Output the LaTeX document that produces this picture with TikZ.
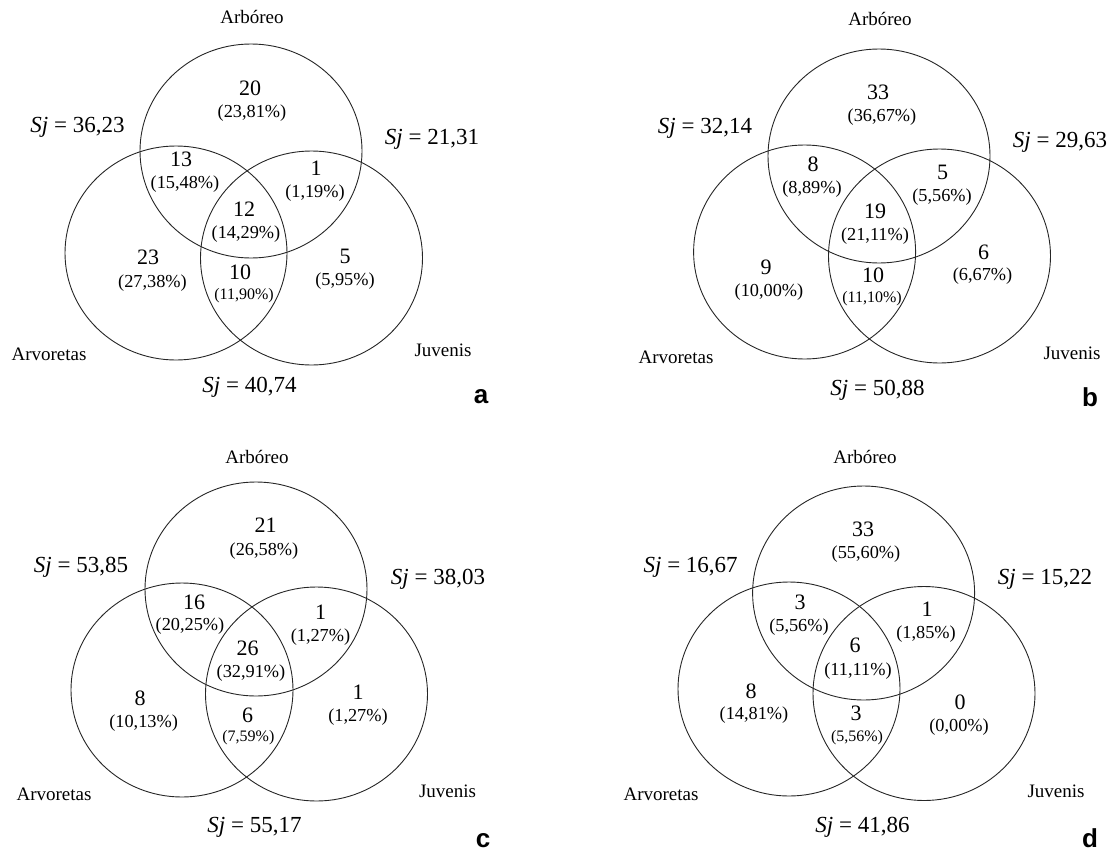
\documentclass[tikz,border=0pt]{standalone}
\usepackage{fontspec}
\setmainfont{Liberation Serif}
\newfontfamily\tagfont{Liberation Sans}
\begin{document}
\begin{tikzpicture}[x=1pt,y=-1pt,
  ring/.style={line width=0.9pt, draw=black!85},
  num/.style={inner sep=0pt, font=\fontsize{22}{22}\selectfont},
  pct/.style={inner sep=0pt, font=\fontsize{18.3}{18.3}\selectfont},
  spct/.style={inner sep=0pt, font=\fontsize{16}{16}\selectfont},
  lbl/.style={inner sep=0pt, font=\fontsize{19}{19}\selectfont},
  sj/.style={inner sep=0pt, font=\fontsize{23}{23}\selectfont},
  tag/.style={inner sep=0pt, font=\tagfont\bfseries\fontsize{26}{26}\selectfont}]
\useasboundingbox (0,0) rectangle (1111,854);
\newcommand{\SJ}[1]{\textit{Sj} = #1}
% ---------------- panel a ----------------
\coordinate (aT) at (251,151);
\coordinate (aL) at (176,253);
\coordinate (aR) at (311.5,258);
\draw[ring] (aT) ellipse [x radius=111pt, y radius=107pt];
\draw[ring] (aL) ellipse [x radius=111pt, y radius=107pt];
\draw[ring] (aR) ellipse [x radius=111pt, y radius=107pt];
\node[lbl] (aArb) at (252,17) {Arbóreo};
\node[sj] (aS1) at (77.5,127) {\SJ{36,23}};
\node[sj] (aS2) at (432,139) {\SJ{21,31}};
\node[num] (an1) at (250,88) {20};
\node[pct] (ap1) at (252,113) {(23,81\%)};
\node[num] (an2) at (181,159) {13};
\node[pct] (ap2) at (185,184) {(15,48\%)};
\node[num] (an3) at (316,168) {1};
\node[pct] (ap3) at (315,193) {(1,19\%)};
\node[num] (an4) at (244,209) {12};
\node[pct] (ap4) at (246,234) {(14,29\%)};
\node[num] (an5) at (148,257) {23};
\node[pct] (ap5) at (152.5,283) {(27,38\%)};
\node[num] (an6) at (240,272) {10};
\node[spct] (ap6) at (244,296) {(11,90\%)};
\node[num] (an7) at (345,256) {5};
\node[pct] (ap7) at (345,281) {(5,95\%)};
\node[lbl] (aArv) at (49,354) {Arvoretas};
\node[lbl] (aJuv) at (443,350) {Juvenis};
\node[sj] (aS3) at (249.5,387) {\SJ{40,74}};
\node[tag] (aTag) at (481,397) {a};
% ---------------- panel b ----------------
\coordinate (bT) at (879,156);
\coordinate (bL) at (804.6,252);
\coordinate (bR) at (939.5,256);
\draw[ring] (bT) ellipse [x radius=111pt, y radius=107pt];
\draw[ring] (bL) ellipse [x radius=111pt, y radius=107pt];
\draw[ring] (bR) ellipse [x radius=111pt, y radius=107pt];
\node[lbl] (bArb) at (880,19) {Arbóreo};
\node[sj] (bS1) at (705,128) {\SJ{32,14}};
\node[sj] (bS2) at (1060,142) {\SJ{29,63}};
\node[num] (bn1) at (878,92) {33};
\node[pct] (bp1) at (882,117) {(36,67\%)};
\node[num] (bn2) at (813,164) {8};
\node[pct] (bp2) at (812,189) {(8,89\%)};
\node[num] (bn3) at (942.5,172) {5};
\node[pct] (bp3) at (942,197) {(5,56\%)};
\node[num] (bn4) at (875,211) {19};
\node[pct] (bp4) at (875,236) {(21,11\%)};
\node[num] (bn5) at (766,267) {9};
\node[pct] (bp5) at (769,292) {(10,00\%)};
\node[num] (bn6) at (873,275) {10};
\node[spct] (bp6) at (872,299) {(11,10\%)};
\node[num] (bn7) at (983.6,252) {6};
\node[pct] (bp7) at (982.5,276) {(6,67\%)};
\node[lbl] (bArv) at (676,357) {Arvoretas};
\node[lbl] (bJuv) at (1072,353) {Juvenis};
\node[sj] (bS3) at (877.5,390) {\SJ{50,88}};
\node[tag] (bTag) at (1090,397) {b};
% ---------------- panel c ----------------
\coordinate (cT) at (256,589);
\coordinate (cL) at (182,690);
\coordinate (cR) at (316.5,694);
\draw[ring] (cT) ellipse [x radius=111pt, y radius=107pt];
\draw[ring] (cL) ellipse [x radius=111pt, y radius=107pt];
\draw[ring] (cR) ellipse [x radius=111pt, y radius=107pt];
\node[lbl] (cArb) at (257,457) {Arbóreo};
\node[sj] (cS1) at (81,567) {\SJ{53,85}};
\node[sj] (cS2) at (438,579) {\SJ{38,03}};
\node[num] (cn1) at (265.6,525) {21};
\node[pct] (cp1) at (264,551) {(26,58\%)};
\node[num] (cn2) at (194,602) {16};
\node[pct] (cp2) at (190,626) {(20,25\%)};
\node[num] (cn3) at (320.5,612) {1};
\node[pct] (cp3) at (320.5,637) {(1,27\%)};
\node[num] (cn4) at (247.7,648) {26};
\node[pct] (cp4) at (251,673) {(32,91\%)};
\node[num] (cn5) at (140,698) {8};
\node[pct] (cp5) at (143.6,723) {(10,13\%)};
\node[num] (cn6) at (247.7,715) {6};
\node[spct] (cp6) at (248.4,738) {(7,59\%)};
\node[num] (cn7) at (358,692) {1};
\node[pct] (cp7) at (358,717) {(1,27\%)};
\node[lbl] (cArv) at (54,794) {Arvoretas};
\node[lbl] (cJuv) at (447.6,791) {Juvenis};
\node[sj] (cS3) at (254.5,827) {\SJ{55,17}};
\node[tag] (cTag) at (483,841) {c};
% ---------------- panel d ----------------
\coordinate (dT) at (863.6,593);
\coordinate (dL) at (789,689);
\coordinate (dR) at (924,693.5);
\draw[ring] (dT) ellipse [x radius=111pt, y radius=107pt];
\draw[ring] (dL) ellipse [x radius=111pt, y radius=107pt];
\draw[ring] (dR) ellipse [x radius=111pt, y radius=107pt];
\node[lbl] (dArb) at (865,457) {Arbóreo};
\node[sj] (dS1) at (690.7,567) {\SJ{16,67}};
\node[sj] (dS2) at (1045,579) {\SJ{15,22}};
\node[num] (dn1) at (863,529) {33};
\node[pct] (dp1) at (866,554) {(55,60\%)};
\node[num] (dn2) at (800,602) {3};
\node[pct] (dp2) at (799,627) {(5,56\%)};
\node[num] (dn3) at (927,609) {1};
\node[pct] (dp3) at (926,634) {(1,85\%)};
\node[num] (dn4) at (855,645) {6};
\node[pct] (dp4) at (858,671) {(11,11\%)};
\node[num] (dn5) at (751,691) {8};
\node[pct] (dp5) at (754,715) {(14,81\%)};
\node[num] (dn6) at (856,713) {3};
\node[spct] (dp6) at (857,738) {(5,56\%)};
\node[num] (dn7) at (960,702) {0};
\node[pct] (dp7) at (959,727) {(0,00\%)};
\node[lbl] (dArv) at (661,794) {Arvoretas};
\node[lbl] (dJuv) at (1056,791) {Juvenis};
\node[sj] (dS3) at (862.5,827) {\SJ{41,86}};
\node[tag] (dTag) at (1090,838) {d};
\end{tikzpicture}
\end{document}
